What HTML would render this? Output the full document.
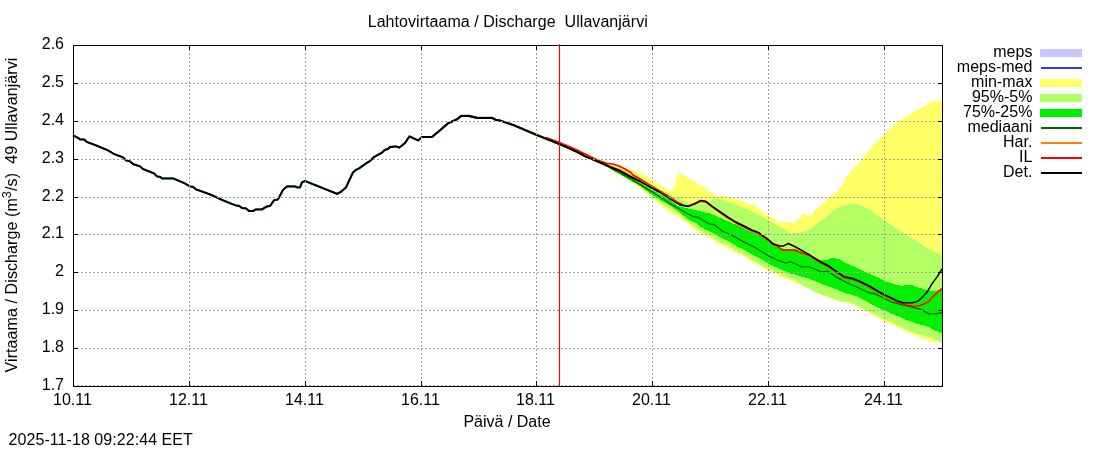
<!DOCTYPE html>
<html><head><meta charset="utf-8"><title>Lahtovirtaama / Discharge Ullavanjärvi</title>
<style>
html,body{margin:0;padding:0;background:#fff;}
body{width:1100px;height:450px;overflow:hidden;}
svg{display:block;will-change:transform;}
text{font-family:"Liberation Sans",sans-serif;font-size:16px;fill:#000;}
</style></head><body>
<svg width="1100" height="450" viewBox="0 0 1100 450">
<rect x="0" y="0" width="1100" height="450" fill="#fff"/>

<g shape-rendering="crispEdges">
<polygon fill="#ffff66" points="548,138.5 560,142.5 580,150.5 600,159.6 612,163 620,166 627,168.5 636,171.5 644,174.5 652,180 660,185 668,190 672,191 674,188 676.5,179 678.5,173.5 681,173.2 689.6,178.5 699,184.4 712,192.6 718,196.5 725,196.2 733,198.3 744,201.8 753.6,205.5 760,209.5 768,215.2 776,220.4 779,222.2 789,222.2 791,223 794.5,223 797,219.5 800,218 802,214.4 812,214.6 814,211.5 817,208 822,204 826,200.5 830,196 833,194 837,191.5 843.2,183.6 845.6,177.2 852,169.2 860,161.5 866.4,154 872.8,146 879.2,139.6 885.6,132.4 895.2,124.4 903.2,118.5 912.8,112 920.8,108.4 925.6,105.2 932,100.9 942.5,100.9 942.5,343.5 938,341 934.4,341.9 930.4,341.9 924,338.7 917.6,336.3 908,332.3 898.4,327.5 885.6,321.9 872.8,315.5 860,307.8 848.8,302.8 840.8,302 829.6,298 816.8,293 802,285.3 791.2,281 776.4,274.9 766.8,270.1 754,262.9 744,256.3 738,254.1 728,248.3 722,245.3 712,239.5 706,236.5 696,230.7 688,223.5 677,216.24 664,208 653,198.99 640,187.75 620,175.38 600,163.5 580,155.2 560,145.6 548,139.5"/>
<polygon fill="#b3ff66" points="548,139 560,143.5 600,160.5 620,170.5 640,177.5 653,185.3 660,189.5 670,194 675,197 685,201 690,203.5 695,202 700,200.5 706,201 710,200.8 715,198.8 723,199.8 733,203.5 744,208 755,212.6 763,217 771,221.8 779,226.8 785.6,230 790.4,233.6 798.4,233 804.8,231 810,229 814,226.3 818.4,222.4 824.8,218.4 831.2,212 834.4,210 842.4,205.7 850.4,204 858.4,204.4 864.8,207.6 869.6,209.6 879.2,216.5 888.8,223.2 898.4,229.6 908,236 917.6,241.6 927.2,248 935.2,252 942.5,256 942.5,343.4 935.2,339.4 928.8,337 919.2,334.6 911.2,331.4 901.6,327.4 892,322.6 879.2,316.7 869.6,311.9 860,307 848.8,301.9 840.8,301.2 829.6,297.2 816.8,292.4 804,286 792.4,279.2 779.6,274 766.8,268.4 754,261.2 744,254.6 738,252.4 728,245 722,243.6 712,237 706,234 696,228.2 690,223.4 680,214.9 667,207.17 653,197.33 640,186.7 620,174.85 600,163 580,155 560,145.4 548,139.5"/>
<polygon fill="#00f000" points="548,139.2 560,144 600,161 620,172.5 640,183 653,190.5 670,200 678,206 686,208 696,210.3 704,212.4 708.8,213.2 716.8,216.4 728,221.2 740.8,226.8 750.4,231.6 758,234 766,239 773,244.5 780,248 790,250 796,250.5 801.6,253.2 810,257 819,260.4 824,260 826.4,260 832.8,258 839.2,259 847.2,263.8 856.8,267.8 866.4,272.6 876,276.6 885.6,281.4 895.2,284.6 901.6,285.7 911.2,285 919.2,287.8 927.2,290.2 935.2,291 942.5,289.4 942.5,333.2 932,329.2 930.4,327.8 924,325.3 916,323.6 914.4,322.6 904.8,319.3 895.2,315 892,314 885.6,311 876,306.5 866.4,301.3 855.2,295.8 852,294.8 844,292.6 834.4,288.6 830.8,287 823.2,284.6 821.2,283.4 812,279.8 808.4,278.4 800.8,276.6 795.6,274.6 789.6,273.4 782.8,270.2 770,264.6 760,258.3 754,255.8 744,249.3 738,247 728,240.8 722,238.2 712,232.3 706,229.8 700,226.3 696,222.8 690,220.6 680,212.8 672,206.72 653,195.53 640,185.9 620,174.2 600,162.5 580,154.6 560,145.2 548,139.5"/>
</g>
<g fill="none" stroke-linejoin="round" stroke-linecap="butt">
<polyline stroke="#006400" stroke-width="1.25" points="560,144.5 580,153 600,162 616,171 632,179.6 653,192.4 670,203.6 680,209.2 688,214 692.8,216.4 698,217.4 709.2,223.8 714,224.6 722,231 731.6,235 742.8,241.4 754,247 762,251.8 768.4,255.8 776.4,259.8 786,263 790.8,261.7 802,267 808.4,266.5 821.2,271.8 827.6,271.3 837.2,277.4 847.2,283 856.8,287 866.4,291.8 876,294.2 884,298.2 892,302.2 901.6,304.6 911.2,307 920.8,309.4 928.8,313.9 935.2,313.9 942,312.6"/>
<polyline stroke="#ff8000" stroke-width="1.3" points="548,138.6 560,143.6 570,147.8 580,152.3 590,157.3 600,162 610,166 620,169.5 630,175 640,180.3 650,186 660,191.8 670,198 680,204.3 684,205.2 688,206.2 694.4,204.1 700.8,200.9 705.6,201.7 712,206.7 720,212.3 728,217.9 736,222.7 744,226.7 752,230.7 758.4,233.1 766.4,238.7 773.2,244.3 776,244.9 782.4,249.7 795.2,249.7 798.4,251.3 808.4,254.9 821.2,262.9 828,266.2 836,271.7 844,277.3 852,278.9 860,282.1 869.6,286.9 879.2,292.5 888.8,297.3 896.8,301.3 904.8,304.3 912.8,305.9 919.2,305.6 924,303.5 928.8,301.1 933.6,295.5 942,288.3"/>
<polyline stroke="#ff0000" stroke-width="1.45" points="546,137.4 555,140.6 565,144.6 575,149 585,154 595,158.8 600,161 607,163.5 613,164 619,166 625,169 631,172.5 633,175 640,179 650,185 660,191 670,197 678,202.5 684,205.5 688,206.5 694.4,204.4 700.8,201.2 705.6,202 712,207 720,212.6 728,218.2 736,223 744,227 752,231 758.4,233.4 766.4,239 773.2,244.6 776,245.2 782.4,250 795.2,250 798.4,251.6 808.4,255.2 821.2,263.2 828,266.5 836,272 844,277.6 852,279.2 860,282.4 869.6,287.2 879.2,292.8 888.8,297.6 896.8,301.6 904.8,304.6 912.8,306.2 919.2,305.9 924,303.8 928.8,301.4 933.6,295.8 942,288.6"/>
<polyline stroke="#000" stroke-width="1.45" points="560,144.4 570,148.6 580,153.4 585,156.3 590,158.3 600,162.5 610,166.8 620,171 630,176.5 640,181.5 650,187 660,192.5 670,199 680,205 688,206.3 694.4,203.6 700.8,200.4 705.6,201.2 712,206 720,211.6 728,217.2 736,222 744,226 752,230 758.4,232.4 766.4,238 773.2,243.8 779.6,245.9 783.6,245.9 788.4,243.5 795.6,247 808.4,254.2 821.2,262.2 828,265.5 836,271 844,276.6 852,278.2 860,281.4 869.6,286.2 879.2,291.8 888.8,296.6 896.8,300.6 903.2,302.7 912.8,302.7 917.6,301.4 922.4,297.4 927.2,291.8 932,283.8 936.8,277.4 942,269"/>
<polyline stroke="#000" stroke-width="1.9" points="560,144.4 570,148.6 580,153.4 585,156.3 590,158.3 600,162.5 610,166.8 620,171 630,176.5 640,181.5"/>
<polyline stroke="#006400" stroke-width="2" points="73,135.4 78,137.8 80,139.4 84,139.4 87,142 96,145.4 108,150.4 114,154 123,157.4 126,160.4 130,161.4 133,164 140,166.4 143,169 154,173.4 157,176.4 160,176.8 162,178.4 173,178.4 184,183 190,186.4 193,186.8 196,189.4 210,194.4 222,199.8 232,204 236,205.4 239,205.8 242,208 246,208.4 249,211 253,211 256,209.4 262,209.4 267,206.4 270,206 274,200.4 278,199.4 283,189.9 287,186.4 295,186.4 297,187.4 300,187.4 302,182.4 305,181 337,193.8 341,191.8 346,187.4 353,172.4 356,169.8 359,168.4 366,163.4 370,161 374,157 382,152.6 385,149.8 388,149 390,147 396,146.4 399.4,147.6 405,143 409.4,136.4 418,140.4 422,137 432,137 440,130.4 448,123.4 457,119.4 461,116 469,116 477,118 492,118 496,120 500,120.6 514,125.4 536.6,135 560,144.4"/>
<polyline stroke="#b02000" stroke-width="1.6" points="432,136.55 440,129.95 448,122.95 457,118.95 461,115.55 469,115.55 477,117.55 492,117.55 496,119.55 500,120.15 514,124.95 536.6,134.55 560,143.95"/>
<polyline stroke="#000" stroke-width="1.85" points="73,135.4 78,137.8 80,139.4 84,139.4 87,142 96,145.4 108,150.4 114,154 123,157.4 126,160.4 130,161.4 133,164 140,166.4 143,169 154,173.4 157,176.4 160,176.8 162,178.4 173,178.4 184,183 190,186.4 193,186.8 196,189.4 210,194.4 222,199.8 232,204 236,205.4 239,205.8 242,208 246,208.4 249,211 253,211 256,209.4 262,209.4 267,206.4 270,206 274,200.4 278,199.4 283,189.9 287,186.4 295,186.4 297,187.4 300,187.4 302,182.4 305,181 337,193.8 341,191.8 346,187.4 353,172.4 356,169.8 359,168.4 366,163.4 370,161 374,157 382,152.6 385,149.8 388,149 390,147 396,146.4 399.4,147.6 405,143 409.4,136.4 418,140.4 422,137 432,137 440,130.4 448,123.4 457,119.4 461,116 469,116 477,118 492,118 496,120 500,120.6 514,125.4 536.6,135 560,144.4"/>
</g>
<g stroke="#a0a0a0" stroke-width="1" stroke-dasharray="2,2" fill="none" shape-rendering="crispEdges">
<line x1="73" y1="83.5" x2="943" y2="83.5"/>
<line x1="73" y1="121.5" x2="943" y2="121.5"/>
<line x1="73" y1="159.5" x2="943" y2="159.5"/>
<line x1="73" y1="197.5" x2="943" y2="197.5"/>
<line x1="73" y1="234.5" x2="943" y2="234.5"/>
<line x1="73" y1="272.5" x2="943" y2="272.5"/>
<line x1="73" y1="310.5" x2="943" y2="310.5"/>
<line x1="73" y1="348.5" x2="943" y2="348.5"/>
<line x1="73" y1="385.5" x2="943" y2="385.5" stroke="#a8a8a8"/>
<line x1="189.5" y1="387" x2="189.5" y2="46"/>
<line x1="305.5" y1="387" x2="305.5" y2="46"/>
<line x1="421.5" y1="387" x2="421.5" y2="46"/>
<line x1="536.5" y1="387" x2="536.5" y2="46"/>
<line x1="652.5" y1="387" x2="652.5" y2="46"/>
<line x1="768.5" y1="387" x2="768.5" y2="46"/>
<line x1="884.5" y1="387" x2="884.5" y2="46"/>
</g>
<g stroke="#000" stroke-width="1" fill="none" shape-rendering="crispEdges">
<line x1="73" y1="83.5" x2="78" y2="83.5"/>
<line x1="938" y1="83.5" x2="943" y2="83.5"/>
<line x1="73" y1="121.5" x2="78" y2="121.5"/>
<line x1="938" y1="121.5" x2="943" y2="121.5"/>
<line x1="73" y1="159.5" x2="78" y2="159.5"/>
<line x1="938" y1="159.5" x2="943" y2="159.5"/>
<line x1="73" y1="197.5" x2="78" y2="197.5"/>
<line x1="938" y1="197.5" x2="943" y2="197.5"/>
<line x1="73" y1="234.5" x2="78" y2="234.5"/>
<line x1="938" y1="234.5" x2="943" y2="234.5"/>
<line x1="73" y1="272.5" x2="78" y2="272.5"/>
<line x1="938" y1="272.5" x2="943" y2="272.5"/>
<line x1="73" y1="310.5" x2="78" y2="310.5"/>
<line x1="938" y1="310.5" x2="943" y2="310.5"/>
<line x1="73" y1="348.5" x2="78" y2="348.5"/>
<line x1="938" y1="348.5" x2="943" y2="348.5"/>
<line x1="189.5" y1="386" x2="189.5" y2="381"/>
<line x1="189.5" y1="45" x2="189.5" y2="50"/>
<line x1="305.5" y1="386" x2="305.5" y2="381"/>
<line x1="305.5" y1="45" x2="305.5" y2="50"/>
<line x1="421.5" y1="386" x2="421.5" y2="381"/>
<line x1="421.5" y1="45" x2="421.5" y2="50"/>
<line x1="536.5" y1="386" x2="536.5" y2="381"/>
<line x1="536.5" y1="45" x2="536.5" y2="50"/>
<line x1="652.5" y1="386" x2="652.5" y2="381"/>
<line x1="652.5" y1="45" x2="652.5" y2="50"/>
<line x1="768.5" y1="386" x2="768.5" y2="381"/>
<line x1="768.5" y1="45" x2="768.5" y2="50"/>
<line x1="884.5" y1="386" x2="884.5" y2="381"/>
<line x1="884.5" y1="45" x2="884.5" y2="50"/>
<rect x="73.5" y="45.5" width="869" height="341"/>
</g>
<line x1="559.5" y1="44.3" x2="559.5" y2="386" stroke="#ff0000" stroke-width="1.15"/>
<text x="64" y="49" text-anchor="end">2.6</text>
<text x="64" y="87" text-anchor="end">2.5</text>
<text x="64" y="125" text-anchor="end">2.4</text>
<text x="64" y="163" text-anchor="end">2.3</text>
<text x="64" y="201" text-anchor="end">2.2</text>
<text x="64" y="238" text-anchor="end">2.1</text>
<text x="64" y="276" text-anchor="end">2</text>
<text x="64" y="314" text-anchor="end">1.9</text>
<text x="64" y="352" text-anchor="end">1.8</text>
<text x="64" y="390" text-anchor="end">1.7</text>
<text x="72.5" y="405" text-anchor="middle">10.11</text>
<text x="188.5" y="405" text-anchor="middle">12.11</text>
<text x="304.5" y="405" text-anchor="middle">14.11</text>
<text x="420.5" y="405" text-anchor="middle">16.11</text>
<text x="535.5" y="405" text-anchor="middle">18.11</text>
<text x="651.5" y="405" text-anchor="middle">20.11</text>
<text x="767.5" y="405" text-anchor="middle">22.11</text>
<text x="883.5" y="405" text-anchor="middle">24.11</text>
<text x="507.8" y="27" text-anchor="middle" letter-spacing="0.045" style="white-space:pre" xml:space="preserve">Lahtovirtaama / Discharge  Ullavanjärvi</text>
<text x="507" y="427" text-anchor="middle">Päivä / Date</text>
<text x="8.6" y="445" letter-spacing="0.06">2025-11-18 09:22:44 EET</text>
<text transform="translate(17,215) rotate(-90)" text-anchor="middle" letter-spacing="0.09" style="white-space:pre" xml:space="preserve">Virtaama / Discharge (m<tspan font-size="12.8" dy="-6">3</tspan><tspan dy="6">/s)  49 Ullavanjärvi</tspan></text>
<text x="1032.4" y="57" text-anchor="end">meps</text>
<rect x="1040" y="49" width="42" height="8" fill="#c8c8ff" shape-rendering="crispEdges"/>
<text x="1032.4" y="72" text-anchor="end">meps-med</text>
<line x1="1041" y1="68" x2="1082" y2="68" stroke="#3838e8" stroke-width="2"/>
<text x="1032.4" y="87" text-anchor="end">min-max</text>
<rect x="1040" y="79" width="42" height="8" fill="#ffff66" shape-rendering="crispEdges"/>
<text x="1032.4" y="102" text-anchor="end">95%-5%</text>
<rect x="1040" y="94" width="42" height="8" fill="#b3ff66" shape-rendering="crispEdges"/>
<text x="1032.4" y="117" text-anchor="end">75%-25%</text>
<rect x="1040" y="109" width="42" height="8" fill="#00f000" shape-rendering="crispEdges"/>
<text x="1032.4" y="132" text-anchor="end">mediaani</text>
<line x1="1041" y1="128" x2="1082" y2="128" stroke="#006400" stroke-width="2"/>
<text x="1032.4" y="147" text-anchor="end">Har.</text>
<line x1="1041" y1="143" x2="1082" y2="143" stroke="#ff8000" stroke-width="2"/>
<text x="1032.4" y="162" text-anchor="end">IL</text>
<line x1="1041" y1="158" x2="1082" y2="158" stroke="#ff0000" stroke-width="2"/>
<text x="1032.4" y="177" text-anchor="end">Det.</text>
<line x1="1041" y1="173" x2="1082" y2="173" stroke="#000" stroke-width="2"/>
</svg></body></html>
